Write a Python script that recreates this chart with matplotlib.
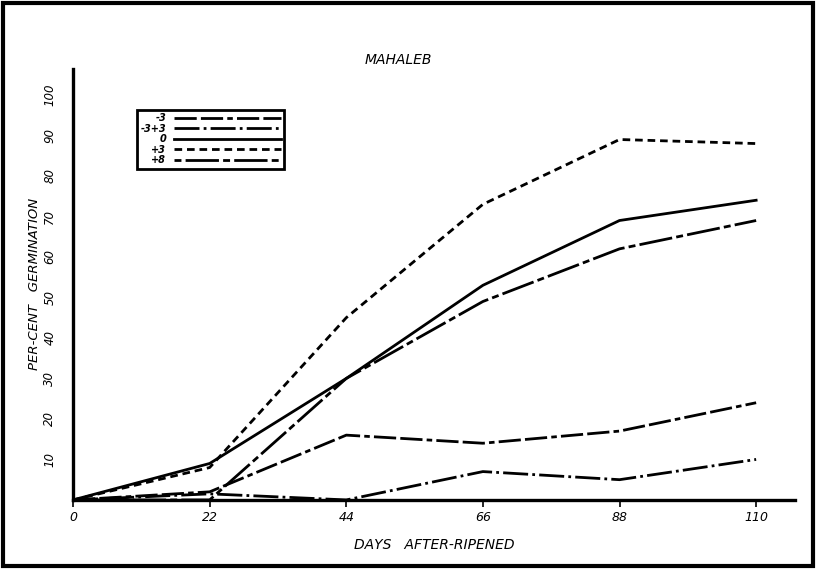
import matplotlib
matplotlib.use("Agg")
import matplotlib.pyplot as plt
from matplotlib.patches import Rectangle

# days after-ripened and per-cent germination
days = [0, 22, 44, 66, 88, 110]
minus3 = [0, 2, 16, 14, 17, 24]
minus3_plus3 = [0, 1.5, 0, 7, 5, 10]
zero = [0, 9, 30, 53, 69, 74]
plus3 = [0, 8, 45, 73, 89, 88]
plus8 = [0, 0, 30, 49, 62, 69]

labels = ["-3", "-3+3", "0", "+3", "+8"]
yticks = [10, 20, 30, 40, 50, 60, 70, 80, 90, 100]

plt.rcParams["lines.scale_dashes"] = False
plt.rcParams["font.family"] = "DejaVu Sans"


def main():
    fig = plt.figure(figsize=(8.17, 5.72), dpi=100)
    ax = fig.add_axes([0.0894, 0.126, 0.884, 0.754])

    lw = 2.0
    ax.plot(days, minus3, color="black", lw=lw, ls=(0, (16, 3, 16, 3, 4, 3)), label=labels[0])
    ax.plot(days, minus3_plus3, color="black", lw=lw, ls=(0, (18, 3, 2, 3)), label=labels[1])
    ax.plot(days, zero, color="black", lw=lw, ls="-", label=labels[2])
    ax.plot(days, plus3, color="black", lw=lw, ls=(0, (5.5, 3.5)), label=labels[3])
    ax.plot(days, plus8, color="black", lw=lw, ls=(0, (5, 3, 24, 3)), label=labels[4])

    ax.set_xlim(0, 116.3)
    ax.set_ylim(0, 106.5)
    ax.spines["top"].set_visible(False)
    ax.spines["right"].set_visible(False)
    ax.spines["left"].set_linewidth(2.4)
    ax.spines["bottom"].set_linewidth(2.4)

    ax.set_xticks(days)
    ax.set_xticklabels([str(d) for d in days], fontstyle="italic", fontsize=9)
    ax.tick_params(axis="x", direction="out", length=5, width=1.2, pad=3)
    ax.set_yticks(yticks)
    ax.set_yticklabels([str(v) for v in yticks], fontstyle="italic", fontsize=8.5,
                       rotation=90, va="center")
    ax.tick_params(axis="y", length=0, pad=12)

    ax.set_xlabel("DAYS   AFTER-RIPENED", fontstyle="italic", fontsize=10, labelpad=10)
    ax.set_ylabel("PER-CENT   GERMINATION", fontstyle="italic", fontsize=9.5, labelpad=2)
    fig.text(0.488, 0.895, "MAHALEB", fontstyle="italic", fontsize=10,
             ha="center", va="center")

    leg = ax.legend(loc="upper left", bbox_to_anchor=(0.168, 0.808),
                    bbox_transform=fig.transFigure, markerfirst=False,
                    fancybox=False, edgecolor="black", framealpha=1,
                    fontsize=7, handlelength=11, labelspacing=0.05,
                    handletextpad=0.8, borderpad=0.35, borderaxespad=0)
    leg.get_frame().set_linewidth(2)
    for t in leg.get_texts():
        t.set_fontstyle("italic")
        t.set_fontweight("bold")

    # outer frame round the whole plate
    fig.patches.append(Rectangle((0.0037, 0.0105), 0.991, 0.984, transform=fig.transFigure,
                                 fill=False, edgecolor="black", lw=3))

    fig.savefig("out.png", dpi=100)


if __name__ == "__main__":
    main()
